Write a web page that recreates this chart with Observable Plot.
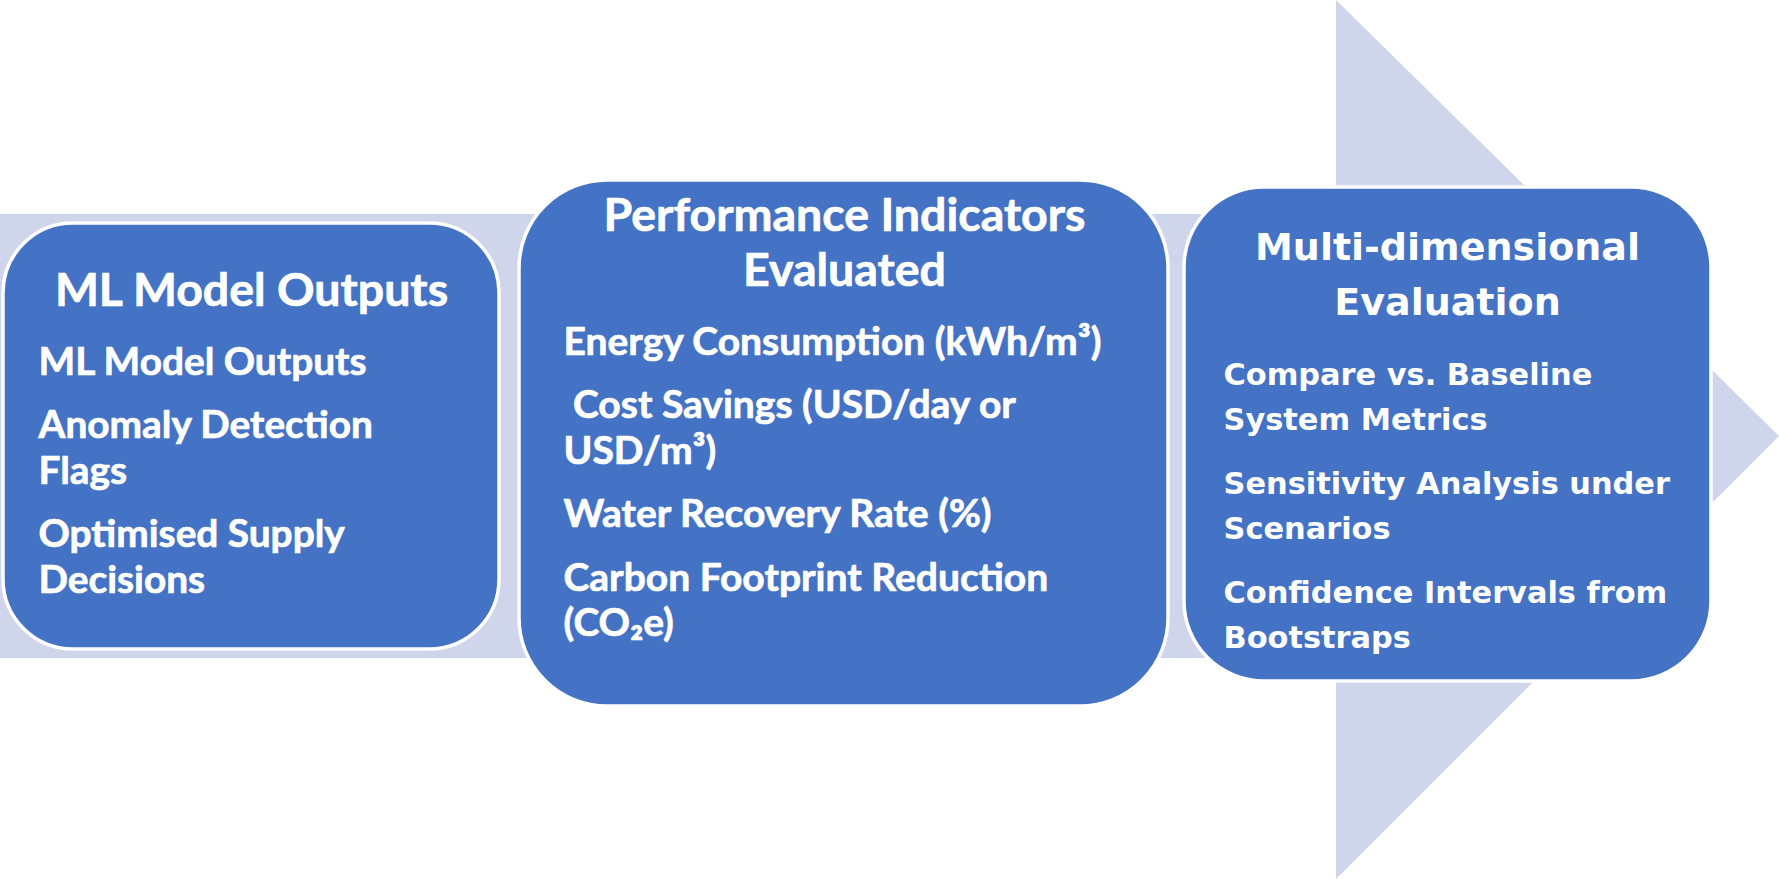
<!DOCTYPE html>
<html><head><meta charset="utf-8">
<script src="https://cdn.jsdelivr.net/npm/d3@7"></script>
<script src="https://cdn.jsdelivr.net/npm/@observablehq/plot@0.6"></script>
<style>
html,body{margin:0;padding:0;background:#fff;overflow:hidden}
svg text{white-space:pre}
</style>
</head><body><div id="chart"></div>
<script>
// ---- data (text content) ----
const stageTitles = [
  ["ML Model Outputs"],
  ["Performance Indicators", "Evaluated"],
  ["Multi-dimensional", "Evaluation"]
];
const stage1Items = [
  ["ML Model Outputs"],
  ["Anomaly Detection", "Flags"],
  ["Optimised Supply", "Decisions"]
];
const stage2Items = [
  ["Energy Consumption (kWh/m³)"],
  [" Cost Savings (USD/day or", "USD/m³)"],
  ["Water Recovery Rate (%)"],
  ["Carbon Footprint Reduction", "(CO₂e)"]
];
const stage3Items = [
  ["Compare vs. Baseline", "System Metrics"],
  ["Sensitivity Analysis under", "Scenarios"],
  ["Confidence Intervals from", "Bootstraps"]
];
const stageItems = [stage1Items, stage2Items, stage3Items];

// ---- layout ----
const W = 1779, H = 879;
const arrow = {bodyTop: 214, bodyBottom: 658, headX: 1336, tipX: 1779, tipY: 436};
const layout = [
  {x1: 3, x2: 499, y1: 223, y2: 649, r: 70, font: "Lato", titleSize: 46.5, itemSize: 38.8, cx: 251, titleY: 305, itemX: 38, itemY: 374, sw: 0.7},
  {x1: 519, x2: 1168, y1: 180, y2: 706, r: 88, font: "Lato", titleSize: 46.5, itemSize: 39, cx: 844, titleY: 230, itemX: 563, itemY: 354, sw: 0.7},
  {x1: 1184, x2: 1711, y1: 187, y2: 681, r: 80, font: "DejaVu Sans", titleSize: 38, itemSize: 30.4, cx: 1447, titleY: 259, itemX: 1223, itemY: 384, sw: 0}
];
const titleLH = 55.5, itemLH = 45.5, itemGap = 63.5;

const arrowBody = [{x1: 0, x2: arrow.headX, y1: arrow.bodyTop, y2: arrow.bodyBottom}];
const arrowHead = [
  {x: arrow.headX, y1: 0, y2: H},
  {x: arrow.tipX, y1: arrow.tipY, y2: arrow.tipY}
];

const marks = [
  Plot.rect(arrowBody, {x1: "x1", x2: "x2", y1: "y1", y2: "y2", fill: "#CFD5EA"}),
  Plot.areaY(arrowHead, {x: "x", y1: "y1", y2: "y2", fill: "#CFD5EA", curve: "linear"})
];

layout.forEach((b, s) => {
  marks.push(Plot.rect([b], {x1: "x1", x2: "x2", y1: "y1", y2: "y2", rx: b.r, ry: b.r,
    fill: "#4472C4", stroke: "#FFFFFF", strokeWidth: 3.5}));
  const titles = stageTitles[s].map((t, i) => ({text: t, x: b.cx, y: b.titleY + i * titleLH}));
  const common = {x: "x", y: "y", text: "text", lineAnchor: "bottom", fill: "white",
    fontWeight: "bold", fontFamily: b.font, stroke: b.sw ? "white" : "none", strokeWidth: b.sw};
  marks.push(Plot.text(titles, {...common, textAnchor: "middle", fontSize: b.titleSize}));
  const rows = [];
  let y = b.itemY;
  stageItems[s].forEach((item, k) => {
    if (k > 0) y += itemGap;
    item.forEach((line, j) => {
      if (j > 0) y += itemLH;
      rows.push({text: line, x: b.itemX, y});
    });
  });
  marks.push(Plot.text(rows, {...common, textAnchor: "start", fontSize: b.itemSize}));
});

const chart = Plot.plot({
  width: W, height: H, margin: 0,
  x: {domain: [0, W], range: [0, W], axis: null},
  y: {domain: [0, H], range: [0, H], axis: null},
  style: {background: "#fff", overflow: "visible"},
  marks
});
document.getElementById("chart").append(chart);
</script>
</body></html>
